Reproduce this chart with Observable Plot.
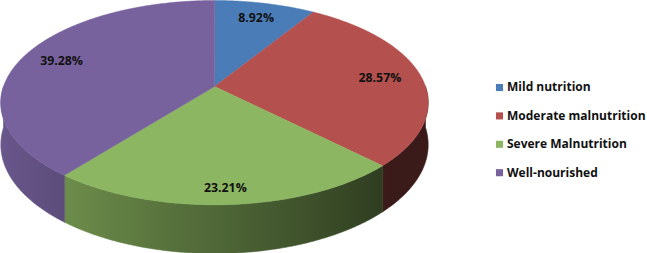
<!DOCTYPE html>
<html>
<head>
<meta charset="utf-8">
<script src="https://cdn.jsdelivr.net/npm/d3@7"></script>
<script src="https://cdn.jsdelivr.net/npm/@observablehq/plot@0.6"></script>
<style>
  html, body { margin: 0; padding: 0; background: #ffffff; }
  #chart svg { display: block; }
</style>
</head>
<body>
<div id="chart"></div>
<script>
// ---- data ----
const categories = ["Mild nutrition", "Moderate malnutrition", "Severe Malnutrition", "Well-nourished"];
const values = [8.92, 28.57, 23.21, 39.28];
const valueLabels = ["8.92%", "28.57%", "23.21%", "39.28%"];
const colors = ["#4a7db8", "#b4504e", "#8cb661", "#77629e"];

// ---- geometry of the 3D pie (projection of a tilted disc with perspective) ----
const W = 647, H = 253;
const CX = 214, CY = 86, RX = 211, RY = 99.6, K = 0.158, T = 41;
function proj(theta, r = 1, h = 0) {
  const s = 1 / (1 + K * r * Math.cos(theta));
  return [CX + RX * r * Math.sin(theta) * s, CY - RY * r * Math.cos(theta) * s + h * T * s];
}
function shadeFactor(theta) {
  return Math.max(0.33, 0.57 + 0.33 * (-Math.sin(theta)));
}
function shade(color, theta) {
  const f = shadeFactor(theta);
  const c = d3.rgb(color);
  return d3.rgb(c.r * f, c.g * f, c.b * f).formatHex();
}

const arcs = d3.pie().sort(null).value(d => d)(values);

// top faces
const topRows = [];
arcs.forEach((a, i) => {
  const id = "top" + i;
  const [x0, y0] = proj(0, 0);
  topRows.push({id, x: x0, y: y0, color: colors[i]});
  const n = Math.max(2, Math.ceil((a.endAngle - a.startAngle) / 0.01));
  for (let j = 0; j <= n; j++) {
    const t = a.startAngle + (a.endAngle - a.startAngle) * j / n;
    const [x, y] = proj(t);
    topRows.push({id, x, y, color: colors[i]});
  }
});

// side (front visible half), one polygon per slice filled with a horizontal shading gradient
const sideRows = [];
arcs.forEach((a, i) => {
  const lo = Math.max(a.startAngle, Math.PI / 2), hi = Math.min(a.endAngle, 3 * Math.PI / 2);
  if (hi <= lo) return;
  const id = "side" + i;
  const color = "url(#sideGrad" + i + ")";
  const n = Math.max(2, Math.ceil((hi - lo) / 0.01));
  for (let j = 0; j <= n; j++) {
    const [x, y] = proj(lo + (hi - lo) * j / n, 1, 0);
    sideRows.push({id, x, y, color});
  }
  for (let j = n; j >= 0; j--) {
    const [x, y] = proj(lo + (hi - lo) * j / n, 1, 1);
    sideRows.push({id, x, y, color});
  }
});

// value labels
const labelRows = arcs.map((a, i) => {
  const m = (a.startAngle + a.endAngle) / 2;
  const r = 0.8;
  const [x, y] = proj(m, r);
  const s = 1 / (1 + K * r * Math.cos(m));
  return {x, y: y + 0.22 * T * s * Math.max(0, -Math.cos(m)), label: valueLabels[i]};
});

// legend
const legendRows = categories.map((c, i) => ({x: 499, y: 87 + i * 28.4, name: c, color: colors[i]}));

const chart = Plot.plot({
  width: W,
  height: H,
  margin: 0,
  x: {domain: [0, W], range: [0, W], axis: null},
  y: {domain: [0, H], range: [0, H], axis: null},
  color: {type: "identity"},
  style: {background: "#ffffff", fontFamily: "'Open Sans', 'Liberation Sans', sans-serif"},
  marks: [
    Plot.line(sideRows, {x: "x", y: "y", z: "id", fill: "color", stroke: "color", strokeWidth: 0.6, curve: "linear-closed"}),
    Plot.line(topRows, {x: "x", y: "y", z: "id", fill: "color", stroke: "color", strokeWidth: 0.5, curve: "linear-closed"}),
    Plot.text(labelRows, {x: "x", y: "y", text: "label", fontSize: 12.3, fontWeight: "bold", fill: "#111111"}),
    Plot.dot(legendRows, {x: "x", y: "y", fill: "color", symbol: "square", r: 4, stroke: null}),
    Plot.text(legendRows, {x: d => d.x + 7.5, y: "y", text: "name", textAnchor: "start", fontSize: 12, fontWeight: "bold", fill: "#111111"})
  ]
});

// shading gradients for the side walls (stops derived from the same projection)
const svg = d3.select(chart.tagName.toLowerCase() === "svg" ? chart : chart.querySelector("svg"));
const defs = svg.insert("defs", ":first-child");
const aRight = Math.acos(-K), aLeft = 2 * Math.PI - Math.acos(-K);
const xR = proj(aRight)[0], xL = proj(aLeft)[0];
colors.forEach((c, i) => {
  const g = defs.append("linearGradient")
    .attr("id", "sideGrad" + i)
    .attr("gradientUnits", "userSpaceOnUse")
    .attr("x1", xL).attr("y1", 0).attr("x2", xR).attr("y2", 0);
  const N = 40;
  for (let j = 0; j <= N; j++) {
    const t = aLeft + (aRight - aLeft) * j / N;
    const x = proj(t)[0];
    g.append("stop")
      .attr("offset", Math.min(1, Math.max(0, (x - xL) / (xR - xL))))
      .attr("stop-color", shade(c, t));
  }
});
document.getElementById("chart").appendChild(chart);
</script>
</body>
</html>
